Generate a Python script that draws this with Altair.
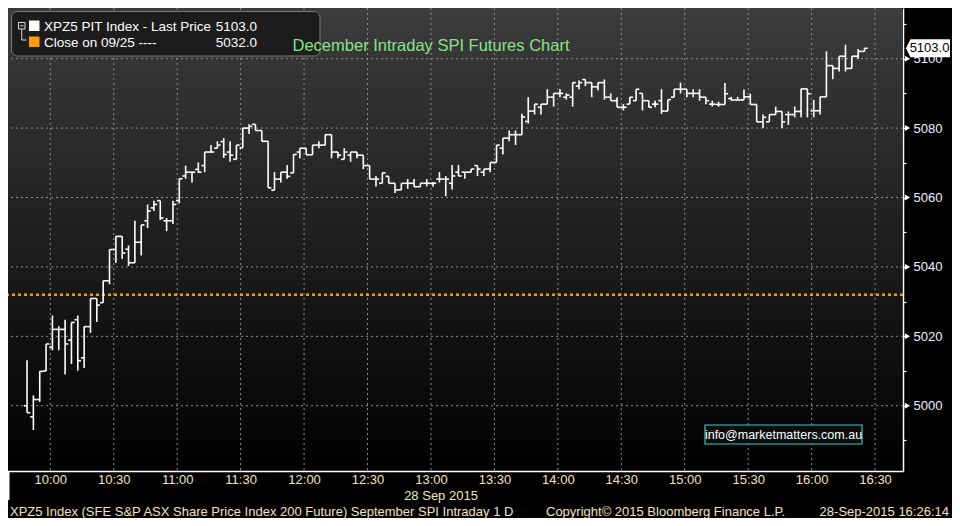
import altair as alt
import pandas as pd

# ---------------- data ----------------
start_minute = 9 * 60 + 49   # first 3-minute bar
interval_min = 3
opens = [5000, 4996.8, 5001.8, 5010, 5016.9, 5022, 5022, 5018.9, 5024.8, 5013.8,
         5022.8, 5030.9, 5029.7, 5036, 5045, 5048.8, 5045.1, 5041.2, 5047.1, 5053.3,
         5057, 5059.1, 5053.3, 5053.3, 5059.1, 5066.2, 5067.3, 5068.1, 5069.2, 5073.1,
         5074.2, 5076.1, 5073.1, 5071, 5074.3, 5080, 5081.1, 5079.3, 5076.2, 5062.1,
         5065.3, 5067.3, 5067.1, 5073.1, 5074.2, 5072.3, 5075.1, 5075.1, 5078.1, 5073.1,
         5071, 5072.2, 5073.1, 5072.2, 5069.2, 5065.3, 5064.1, 5066.1, 5064.1, 5062.2,
         5064.1, 5064.1, 5063.1, 5064.1, 5064.1, 5065.3, 5065.3, 5064.1, 5067.3, 5067.3,
         5067.3, 5069.2, 5067.3, 5068.2, 5070.1, 5074.2, 5077.1, 5078.1, 5078.1, 5081.9,
         5084.9, 5086, 5086.9, 5088.9, 5090, 5088.9, 5088.9, 5092.1, 5094, 5093.1,
         5091.9, 5093.1, 5088.9, 5087.9, 5086, 5086.9, 5087.9, 5090, 5087.9, 5086.9,
         5087.9, 5084.9, 5088.9, 5091.2, 5091.2, 5090, 5090, 5088.9, 5086.9, 5086.8,
         5086.8, 5088.5, 5088.1, 5088.1, 5089.0, 5086.8, 5081.8, 5081.8, 5083.9, 5084.8,
         5083.9, 5083.9, 5084.8, 5091.3, 5085.0, 5085.0, 5089.0, 5098.0, 5097.2, 5100.7,
         5097.2, 5100.7, 5102.1]
highs = [5013.1, 5003, 5010, 5017.8, 5026, 5022.9, 5024.8, 5024, 5026, 5022.8,
         5030.9, 5030.9, 5036, 5045, 5048.9, 5048.8, 5046.2, 5053.3, 5052.1, 5058,
         5059.1, 5059.1, 5054.1, 5059.1, 5065.4, 5069.2, 5067.3, 5070.1, 5073.1, 5075.1,
         5076.2, 5077.1, 5076.2, 5075.1, 5080, 5081.1, 5081.1, 5079.3, 5076.2, 5067.3,
         5067.3, 5069.4, 5072.4, 5074.2, 5074.2, 5075.1, 5076.2, 5078.1, 5078.1, 5073.1,
         5074.2, 5073.1, 5073.1, 5072.2, 5069.2, 5066.2, 5067.1, 5066.1, 5064.1, 5064.1,
         5065.3, 5065.3, 5064.1, 5065.3, 5064.5, 5067.3, 5066.2, 5069.4, 5069.4, 5067.3,
         5068.2, 5069.2, 5068.2, 5070.1, 5075.1, 5077.1, 5079.3, 5079.3, 5084.1, 5088.9,
         5086.9, 5086.9, 5091.2, 5090, 5091.2, 5090, 5093.1, 5093.7, 5094, 5093.1,
         5093.1, 5094, 5090, 5088.9, 5086.9, 5088.9, 5091.2, 5090, 5087.9, 5087.9,
         5091.2, 5088.2, 5091.2, 5093.1, 5091.2, 5091.2, 5091.2, 5088.9, 5087.9, 5087.6,
         5093.0, 5089.0, 5089.0, 5091.1, 5089.9, 5086.8, 5083.9, 5083.9, 5086.2, 5084.8,
         5084.8, 5086.2, 5091.3, 5091.3, 5088.1, 5089.0, 5102.1, 5098.0, 5100.7, 5104.0,
         5100.7, 5102.8, 5103.0]
lows = [4998, 4993, 5001.1, 5010, 5016, 5016, 5009, 5012, 5010.1, 5010.9,
        5021, 5024.1, 5029.7, 5035, 5041.1, 5042.3, 5040.3, 5041.2, 5043.3, 5051.2,
        5056.1, 5053.5, 5050.3, 5052.4, 5058.3, 5065.4, 5064.3, 5067.1, 5067.3, 5073.1,
        5074.2, 5071.4, 5070.3, 5071, 5074.3, 5078.3, 5079.3, 5076.2, 5062.8, 5062.1,
        5064.3, 5065.4, 5067.1, 5071.3, 5072.3, 5072.3, 5074.2, 5075.1, 5071.3, 5071.3,
        5071, 5070.3, 5071.3, 5068.2, 5065.3, 5063.2, 5064.1, 5064.1, 5061.3, 5062.2,
        5062.5, 5063.1, 5063.1, 5063.2, 5063.1, 5064.3, 5060.4, 5062.3, 5066.2, 5065.4,
        5067.3, 5066.2, 5066.2, 5067.3, 5070.1, 5072.4, 5076.2, 5075.1, 5078.1, 5081.3,
        5083.9, 5083.9, 5086.9, 5086.2, 5088.9, 5088.2, 5086.2, 5091.2, 5092.1, 5088.9,
        5090.9, 5088.2, 5087.9, 5086, 5085.1, 5086.9, 5087.9, 5085.1, 5086, 5086,
        5084.1, 5084.9, 5088.9, 5090, 5088.9, 5088.9, 5087.9, 5086.9, 5086.2, 5086.2,
        5086.8, 5087.9, 5087.9, 5088.1, 5086.8, 5081.8, 5080.0, 5081.8, 5083.9, 5080.0,
        5080.9, 5083.1, 5083.1, 5083.1, 5083.1, 5083.9, 5089.0, 5094.1, 5096.3, 5096.3,
        5097.2, 5100.0, 5102.1]
closes = [4998, 5001.8, 5009.9, 5017.8, 5022, 5022, 5017.8, 5024, 5013, 5022.8,
          5030.9, 5029, 5036, 5045, 5048.8, 5044, 5041.2, 5047.1, 5052.1, 5056.1,
          5058, 5054.1, 5053.3, 5058, 5065.4, 5067.3, 5067.3, 5067.3, 5073.1, 5073.1,
          5075.1, 5072.4, 5072.2, 5075.1, 5080, 5080.5, 5079.3, 5076.2, 5062.8, 5065.3,
          5067.3, 5066.1, 5072.4, 5074.2, 5072.3, 5075.1, 5075.1, 5078.1, 5073.1, 5072.2,
          5073.1, 5073.1, 5072.2, 5069.2, 5065.3, 5065.3, 5067.1, 5064.1, 5062.2, 5064.1,
          5064.1, 5063.1, 5064.1, 5064.1, 5064.1, 5065.3, 5065.3, 5066.2, 5066.2, 5067.3,
          5068.2, 5068.2, 5068.2, 5070.1, 5075.1, 5077.1, 5078.1, 5078.1, 5083.2, 5084.9,
          5086.9, 5086.9, 5088.9, 5090, 5090, 5089.5, 5093.1, 5093.1, 5093.1, 5091.9,
          5093.1, 5088.9, 5087.9, 5086, 5086, 5088.9, 5091.2, 5087.9, 5086, 5086.9,
          5084.9, 5088.2, 5091.2, 5091.2, 5090, 5090, 5088.9, 5087.9, 5086.9, 5086.8,
          5089.9, 5088.1, 5088.1, 5089.0, 5086.8, 5081.8, 5083.1, 5083.9, 5084.8, 5081.8,
          5083.9, 5084.8, 5091.3, 5089.9, 5085.0, 5089.0, 5098.0, 5097.2, 5100.7, 5097.2,
          5100.7, 5102.1, 5103.0]

prev_close = 5032.0
last_price = 5103.0
time_ticks = list(range(600, 1000, 30))          # 10:00 ... 16:30
price_labels = [5000, 5020, 5040, 5060, 5080, 5100]
price_minor = list(range(4990, 5120, 10))

legend_row1 = "XPZ5 PIT Index - Last Price"
legend_row2 = "Close on 09/25 ----"
chart_title = "December Intraday SPI Futures Chart"
date_label = "28 Sep 2015"
footer_left = "XPZ5 Index (SFE S&P ASX Share Price Index 200 Future) September SPI Intraday 1 D"
footer_mid = "Copyright\u00a9 2015 Bloomberg Finance L.P."
footer_right = "28-Sep-2015 16:26:14"
email = "info@marketmatters.com.au"

# ---------------- layout ----------------
W, H = 895, 463
FONT = "Liberation Sans, Arial, sans-serif"
FS = 13
TAN = "#f2e2c0"

times = [start_minute + interval_min * i for i in range(len(opens))]
df = pd.DataFrame({"t": times, "o": opens, "h": highs, "l": lows, "c": closes})

xs = alt.Scale(domain=[580, 1003.2], nice=False, zero=False)
ys = alt.Scale(domain=[4981.2, 5114.6], nice=False, zero=False)

x_axis = alt.Axis(
    orient="bottom", values=time_ticks, grid=False, tickSize=0,
    domainColor="white", domainWidth=1.5, labelColor=TAN, labelFont=FONT,
    labelFontSize=FS, labelPadding=2, title=None, zindex=1,
    labelExpr="floor(datum.value/60) + ':' + (datum.value % 60 == 0 ? '00' : '30')",
)
y_axis = alt.Axis(
    orient="right", values=price_minor, grid=False, tickSize=3, tickColor="white",
    tickWidth=1.2, domainColor="white", domainWidth=1.5, labelColor="#eef3ff",
    labelFont=FONT, labelFontSize=FS, labelPadding=7, title=None,
    labelExpr="datum.value % 20 == 0 ? datum.value : ''",
)


def X(f):
    return alt.X(f, type="quantitative", scale=xs, axis=x_axis)


def Y(f):
    return alt.Y(f, type="quantitative", scale=ys, axis=y_axis)


one = alt.Data(values=[{"a": 1}])

bg = alt.Chart(one).mark_rect(
    fill=alt.Gradient(
        gradient="linear",
        stops=[alt.GradientStop(color="#3c3c3c", offset=0),
               alt.GradientStop(color="#1e1e1e", offset=0.5),
               alt.GradientStop(color="#000000", offset=1)],
        x1=0, x2=0, y1=0, y2=1,
    )
).encode(x=alt.value(0), x2=alt.value(W - 1), y=alt.value(0), y2=alt.value(H))

xgrid = alt.Chart(pd.DataFrame({"t": time_ticks})).mark_rule(
    color="#8e8e8e", strokeDash=[2, 3], strokeWidth=1
).encode(x=X("t"))

ygrid = alt.Chart(pd.DataFrame({"p": price_labels})).mark_rule(
    color="#8e8e8e", strokeDash=[2, 3], strokeWidth=1
).encode(y=Y("p"))

prev = alt.Chart(pd.DataFrame({"p": [prev_close]})).mark_rule(
    color="#ff9a00", strokeDash=[3, 3], strokeWidth=2.5
).encode(y=Y("p"))

hl = alt.Chart(df).mark_rule(color="white", strokeWidth=1.6).encode(
    x=X("t"), y=Y("l"), y2="h"
)
op = alt.Chart(df).mark_rule(color="white", strokeWidth=1.6, xOffset=-3.2).encode(
    x=X("t"), x2="t", y=Y("o")
)
cl = alt.Chart(df).mark_rule(color="white", strokeWidth=1.6, x2Offset=3.2).encode(
    x=X("t"), x2="t", y=Y("c")
)

tri = alt.Chart(pd.DataFrame({"p": price_labels})).mark_point(
    shape="triangle-right", filled=True, color="white", size=36, opacity=1
).encode(x=alt.value(W + 4.5), y=Y("p"))

tag = alt.Chart(pd.DataFrame({"p": [last_price]})).mark_point(
    shape="M-1,0L-0.8,-0.41L1,-0.41L1,0.41L-0.8,0.41Z",
    filled=True, color="white", size=1936, opacity=1
).encode(x=alt.value(W + 25), y=Y("p"))
tag_text = alt.Chart(pd.DataFrame({"p": [last_price]})).mark_text(
    color="black", font=FONT, fontSize=FS, align="center", baseline="middle"
).encode(x=alt.value(W + 26.5), y=Y("p"), text=alt.Text("p:Q", format=".1f"))


def box(x1, x2, y1, y2, **kw):
    return alt.Chart(one).mark_rect(**kw).encode(
        x=alt.value(x1), x2=alt.value(x2), y=alt.value(y1), y2=alt.value(y2)
    )


def line(x1, x2, y1, y2, **kw):
    return alt.Chart(one).mark_rule(**kw).encode(
        x=alt.value(x1), x2=alt.value(x2), y=alt.value(y1), y2=alt.value(y2)
    )


def label(s, x, y, **kw):
    opts = dict(font=FONT, fontSize=FS, baseline="middle")
    opts.update(kw)
    return alt.Chart(one).mark_text(**opts).encode(
        x=alt.value(x), y=alt.value(y), text=alt.value(s)
    )


legend = [
    box(3.5, 312, 3.5, 48, fill="#1c1c1c", stroke="#7a7a7a", strokeWidth=1, cornerRadius=6),
    box(10.5, 17, 14.5, 21, fill="#1c1c1c", stroke="#d8d8d8", strokeWidth=1),
    line(12, 15.5, 17.75, 17.75, color="#d8d8d8", strokeWidth=1),
    line(13.75, 13.75, 21, 32, color="#d8d8d8", strokeWidth=1),
    line(13.75, 18.5, 32, 32, color="#d8d8d8", strokeWidth=1),
    box(21, 31.5, 12.5, 23, fill="white"),
    box(21, 31.5, 28.5, 39, fill="#ff9a00"),
    label(legend_row1, 36, 18.5, color="white", align="left", fontSize=13.5),
    label(f"{last_price:.1f}", 249, 18.5, color="white", align="right", fontSize=13.5),
    label(legend_row2, 36, 34.5, color="white", align="left", fontSize=13.5),
    label(f"{prev_close:.1f}", 249, 34.5, color="white", align="right", fontSize=13.5),
]

title = label(chart_title, 423, 38, color="#8ae28a", align="center", fontSize=16.5)

email_box = [
    box(697, 854, 417, 436, fill="#0c0c0c", stroke="#45c4c4", strokeWidth=1.2),
    label(email, 775.5, 426.5, color="white", align="center", fontSize=12.5),
]

bottom = [
    line(0.75, 0.75, H, H + 29, color="white", strokeWidth=1.5),
    label(date_label, 433, H + 25, color=TAN, align="center"),
    label(footer_left, 2, H + 41, color=TAN, align="left"),
    label(footer_mid, 538, H + 41, color=TAN, align="left"),
    label(footer_right, 941, H + 41, color=TAN, align="right"),
]

chart = alt.layer(
    bg, xgrid, ygrid, prev, hl, op, cl, tri, tag, tag_text,
    *legend, title, *email_box, *bottom
).properties(
    width=W, height=H,
    autosize=alt.AutoSizeParams(type="none"),
    padding={"left": 0, "top": 0, "right": 49, "bottom": 47},
).configure(background="black").configure_view(strokeWidth=0)

chart.save("out.html", embed_options={"renderer": "svg", "actions": False})
